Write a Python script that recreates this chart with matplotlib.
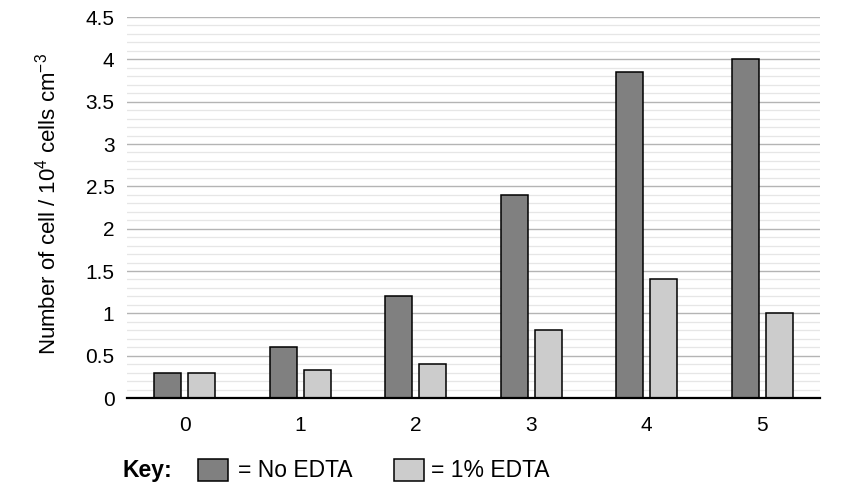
import matplotlib
matplotlib.use("Agg")
import matplotlib.pyplot as plt
import numpy as np
from matplotlib.patches import Rectangle

plt.rcParams['font.family'] = ['Liberation Sans', 'DejaVu Sans']
plt.rcParams['mathtext.fontset'] = 'custom'
plt.rcParams['mathtext.rm'] = 'Liberation Sans'

days = [0, 1, 2, 3, 4, 5]
no_edta = [0.3, 0.6, 1.2, 2.4, 3.85, 4.0]
edta_1pct = [0.3, 0.33, 0.4, 0.8, 1.4, 1.0]
yticks = [0, 0.5, 1, 1.5, 2, 2.5, 3, 3.5, 4, 4.5]
ytick_labels = ["0", "0.5", "1", "1.5", "2", "2.5", "3", "3.5", "4", "4.5"]

W, H = 856, 494
FS = 15
KFS = 16.5
fig = plt.figure(figsize=(W / 100, H / 100), dpi=100)
ax = fig.add_axes([127 / W, 1 - 398 / H, (820 - 127) / W, (398 - 17) / H])

x = np.arange(len(days))
bw = 0.234
off = 0.147
ax.bar(x - off, no_edta, bw, color='#808080', edgecolor='black', linewidth=1.1, zorder=3)
ax.bar(x + off, edta_1pct, bw, color='#cccccc', edgecolor='black', linewidth=1.1, zorder=3)

ax.set_xlim(-0.5, 5.5)
ax.set_ylim(0, 4.5)
ax.set_yticks(yticks)
ax.set_yticklabels(ytick_labels)
ax.set_yticks(np.arange(0, 4.51, 0.1), minor=True)
ax.set_xticks(x)
ax.set_xticklabels([str(d) for d in days])
ax.grid(axis='y', which='major', color='#b4b4b4', linewidth=1.0, zorder=0)
ax.grid(axis='y', which='minor', color='#e6e6e6', linewidth=0.9, zorder=0)
ax.tick_params(axis='both', which='both', length=0, labelsize=FS)
ax.tick_params(axis='x', pad=13)
ax.tick_params(axis='y', pad=9)
for s in ['left', 'right', 'top']:
    ax.spines[s].set_visible(False)
ax.spines['bottom'].set_linewidth(1.6)
ax.spines['bottom'].set_zorder(4)

ax.set_ylabel(r'Number of cell / 10$^4$ cells cm$^{-3}$', fontsize=16)
ax.yaxis.set_label_coords((61 - 127) / (820 - 127), 0.51)

# Key
fig.text(123 / W, 1 - 470 / H, 'Key:', fontsize=KFS, fontweight='bold', va='center', ha='left')
fig.patches.append(Rectangle((198 / W, 1 - 481 / H), 30 / W, 22 / H, transform=fig.transFigure,
                             facecolor='#808080', edgecolor='black', linewidth=1.1))
fig.text(238 / W, 1 - 470 / H, '= No EDTA', fontsize=KFS, va='center', ha='left')
fig.patches.append(Rectangle((394 / W, 1 - 481 / H), 30 / W, 22 / H, transform=fig.transFigure,
                             facecolor='#cccccc', edgecolor='black', linewidth=1.1))
fig.text(431 / W, 1 - 470 / H, '= 1% EDTA', fontsize=KFS, va='center', ha='left')

fig.savefig('out.png', dpi=100)
